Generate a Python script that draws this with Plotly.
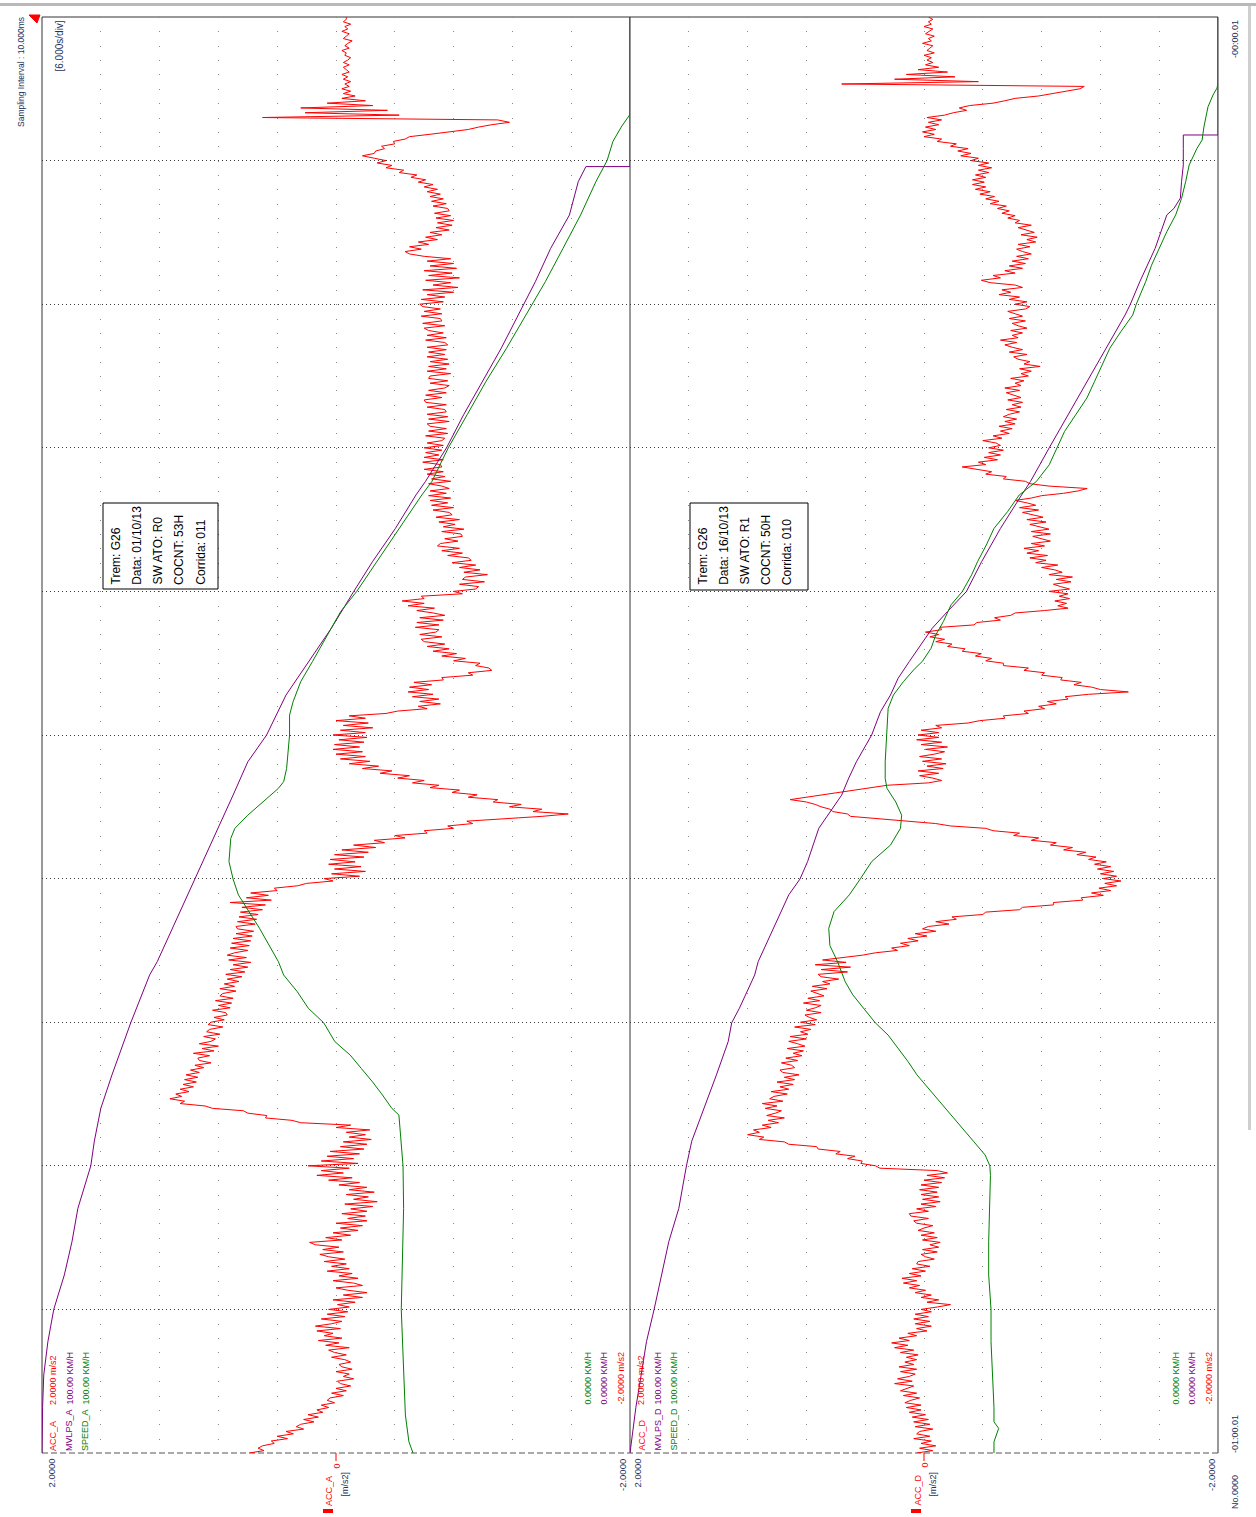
import plotly.graph_objects as go

# ---------------- recorded channels ----------------
# Acceleration records (m/s2), one stored sample every ACC_DT seconds from the start of the 60 s window.
ACC_DT = 0.1

acc_a = [
    0.59, 0.49, 0.53, 0.50, 0.42, 0.44, 0.33, 0.40, 0.29, 0.34, 0.22, 0.27, 0.24, 0.15, 0.22, 0.12, 0.19, 0.09, 0.13, 0.05,
    0.10, 0.01, 0.06, 0.04, -0.05, 0.03, -0.07, 0.00, -0.10, -0.03, -0.01, -0.12, -0.05, -0.09, 0.00, -0.11, -0.04, -0.02, -0.10, -0.06,
    0.03, -0.07, 0.01, 0.05, -0.09, 0.07, -0.02, 0.12, -0.04, 0.08, 0.02, 0.13, -0.03, 0.14, 0.03, -0.04, 0.10, -0.06, 0.06, -0.08,
    0.05, -0.09, -0.01, -0.13, 0.02, -0.18, -0.05, -0.21, -0.08, 0.00, -0.18, -0.12, 0.02, -0.15, -0.02, -0.11, 0.06, -0.09, 0.03, -0.07,
    0.08, -0.06, 0.05, 0.11, -0.05, 0.09, -0.02, 0.14, 0.18, -0.04, 0.07, -0.10, 0.02, -0.15, -0.03, -0.18, 0.00, -0.21, -0.08, -0.20,
    -0.04, -0.21, -0.10, -0.25, -0.06, -0.28, -0.12, -0.22, -0.07, -0.26, -0.09, -0.21, -0.02, -0.16, 0.05, -0.11, 0.13, -0.05, 0.10, -0.09,
    0.19, -0.15, 0.10, -0.12, 0.06, -0.16, 0.04, -0.19, -0.03, -0.21, -0.05, -0.24, -0.09, -0.20, -0.07, -0.23, 0.00, -0.10, 0.24, 0.30,
    0.48, 0.47, 0.60, 0.63, 0.84, 0.89, 1.06, 1.03, 1.13, 1.05, 1.09, 1.00, 1.06, 0.97, 1.04, 0.95, 1.03, 0.94, 1.02, 0.93,
    0.99, 0.90, 0.96, 0.85, 0.93, 0.94, 0.86, 0.97, 0.83, 0.91, 0.80, 0.93, 0.85, 0.82, 0.90, 0.79, 0.88, 0.86, 0.77, 0.87,
    0.85, 0.76, 0.83, 0.74, 0.75, 0.84, 0.72, 0.80, 0.71, 0.82, 0.70, 0.79, 0.77, 0.68, 0.79, 0.69, 0.76, 0.66, 0.74, 0.64,
    0.75, 0.62, 0.72, 0.60, 0.70, 0.58, 0.73, 0.61, 0.74, 0.69, 0.60, 0.72, 0.59, 0.71, 0.58, 0.70, 0.57, 0.68, 0.56, 0.67,
    0.68, 0.55, 0.67, 0.54, 0.66, 0.53, 0.65, 0.50, 0.64, 0.48, 0.72, 0.44, 0.61, 0.46, 0.58, 0.40, 0.42, 0.26, 0.20, 0.02,
    0.08, -0.16, 0.03, -0.20, 0.01, -0.17, 0.05, -0.13, 0.04, -0.19, 0.01, -0.22, -0.04, -0.27, -0.12, -0.33, -0.26, -0.47, -0.40, -0.62,
    -0.60, -0.80, -0.76, -0.93, -0.89, -1.16, -1.40, -1.58, -1.34, -1.40, -1.18, -1.26, -1.07, -1.10, -0.90, -0.96, -0.79, -0.84, -0.64, -0.70,
    -0.52, -0.60, -0.42, -0.50, -0.30, -0.38, -0.18, -0.29, -0.09, -0.23, -0.03, -0.20, 0.00, -0.18, 0.02, -0.16, 0.01, -0.19, -0.02, -0.21,
    0.02, -0.20, -0.03, -0.25, -0.05, -0.22, 0.00, -0.20, -0.09, -0.34, -0.42, -0.62, -0.56, -0.71, -0.57, -0.70, -0.52, -0.66, -0.49, -0.63,
    -0.50, -0.65, -0.53, -0.73, -0.72, -0.93, -0.90, -1.06, -1.04, -0.95, -0.98, -0.80, -0.88, -0.72, -0.82, -0.66, -0.77, -0.62, -0.74, -0.60,
    -0.58, -0.72, -0.57, -0.68, -0.70, -0.54, -0.70, -0.55, -0.73, -0.57, -0.74, -0.66, -0.55, -0.67, -0.49, -0.60, -0.45, -0.60, -0.58, -0.86,
    -0.80, -0.95, -0.97, -0.84, -1.01, -0.86, -0.88, -1.03, -0.87, -0.98, -0.84, -0.95, -0.79, -0.92, -0.90, -0.76, -0.86, -0.72, -0.84, -0.69,
    -0.71, -0.83, -0.74, -0.86, -0.85, -0.72, -0.87, -0.73, -0.81, -0.70, -0.84, -0.68, -0.79, -0.77, -0.66, -0.80, -0.65, -0.76, -0.64, -0.78,
    -0.63, -0.75, -0.64, -0.77, -0.72, -0.63, -0.78, -0.65, -0.74, -0.62, -0.73, -0.60, -0.72, -0.71, -0.59, -0.73, -0.60, -0.70, -0.61, -0.72,
    -0.60, -0.73, -0.62, -0.72, -0.74, -0.61, -0.76, -0.63, -0.75, -0.64, -0.62, -0.77, -0.63, -0.76, -0.62, -0.75, -0.74, -0.62, -0.75, -0.61,
    -0.60, -0.72, -0.61, -0.75, -0.63, -0.74, -0.77, -0.64, -0.76, -0.63, -0.64, -0.78, -0.62, -0.75, -0.63, -0.77, -0.64, -0.76, -0.62, -0.74,
    -0.63, -0.75, -0.62, -0.76, -0.74, -0.61, -0.75, -0.62, -0.73, -0.63, -0.60, -0.74, -0.59, -0.72, -0.71, -0.58, -0.72, -0.60, -0.71, -0.59,
    -0.57, -0.73, -0.58, -0.74, -0.62, -0.80, -0.59, -0.83, -0.66, -0.78, -0.61, -0.84, -0.63, -0.79, -0.60, -0.82, -0.64, -0.80, -0.62, -0.78,
    -0.60, -0.50, -0.47, -0.58, -0.50, -0.63, -0.56, -0.69, -0.61, -0.72, -0.64, -0.77, -0.68, -0.79, -0.69, -0.80, -0.68, -0.78, -0.67, -0.77,
    -0.76, -0.66, -0.75, -0.65, -0.73, -0.64, -0.71, -0.62, -0.69, -0.60, -0.66, -0.56, -0.61, -0.51, -0.55, -0.43, -0.46, -0.34, -0.38, -0.28,
    -0.34, -0.26, -0.18, -0.26, -0.27, -0.33, -0.31, -0.40, -0.39, -0.47, -0.50, -0.64, -0.79, -0.90, -0.97, -1.06, -1.18, -1.10, 0.50, -0.43,
    0.21, -0.35, 0.24, -0.25, 0.06, -0.20, -0.04, -0.13, -0.05, -0.10, -0.04, -0.09, -0.06, -0.10, -0.05, -0.08, -0.04, -0.09, -0.07, -0.05,
    -0.09, -0.05, -0.08, -0.10, -0.06, -0.07, -0.04, -0.09, -0.06, -0.08, -0.11, -0.05, -0.07, -0.09, -0.04, -0.08, -0.06, -0.10, -0.05, -0.07,
    -0.07,
]

acc_d = [
    0.05, -0.06, 0.03, -0.08, 0.02, -0.05, 0.07, -0.04, 0.05, 0.03, -0.06, 0.06, -0.04, 0.07, -0.03, 0.08, -0.01, 0.10, 0.02, 0.12,
    0.02, 0.13, 0.09, 0.03, 0.14, 0.05, 0.16, 0.12, 0.07, 0.20, 0.08, 0.18, 0.10, 0.06, 0.16, 0.05, 0.17, 0.07, 0.13, 0.05,
    0.12, 0.04, 0.16, 0.07, 0.20, 0.11, 0.22, 0.10, 0.17, 0.05, 0.11, -0.02, 0.05, -0.05, 0.06, -0.04, 0.07, -0.03, 0.06, -0.05,
    0.02, -0.09, -0.18, -0.02, -0.10, 0.02, -0.05, 0.06, -0.01, 0.10, 0.03, 0.14, 0.05, 0.15, 0.02, 0.10, -0.01, 0.08, -0.04, 0.05,
    0.04, -0.07, -0.01, 0.02, -0.09, 0.01, -0.10, -0.04, -0.11, 0.01, -0.09, 0.02, -0.07, 0.04, 0.00, -0.06, 0.05, 0.07, -0.03, 0.09,
    0.10, -0.03, 0.05, -0.08, 0.02, -0.11, 0.01, -0.10, 0.02, -0.09, 0.03, -0.10, 0.02, -0.12, 0.00, -0.14, -0.02, -0.16, -0.09, 0.30,
    0.33, 0.43, 0.42, 0.52, 0.47, 0.60, 0.57, 0.72, 0.73, 0.92, 0.95, 1.12, 1.09, 1.20, 1.12, 1.16, 1.04, 1.10, 0.99, 1.06,
    0.95, 1.07, 1.01, 0.97, 1.08, 1.00, 1.10, 0.96, 1.05, 1.02, 0.93, 1.04, 0.92, 0.98, 0.89, 1.00, 0.88, 0.95, 0.85, 0.96,
    0.98, 0.88, 0.90, 0.97, 0.86, 0.94, 0.83, 0.89, 0.82, 0.93, 0.81, 0.86, 0.92, 0.80, 0.91, 0.79, 0.84, 0.77, 0.88, 0.74,
    0.84, 0.73, 0.78, 0.81, 0.70, 0.80, 0.74, 0.70, 0.82, 0.71, 0.79, 0.68, 0.72, 0.77, 0.66, 0.76, 0.64, 0.69, 0.58, 0.70,
    0.72, 0.52, 0.70, 0.50, 0.74, 0.53, 0.69, 0.55, 0.42, 0.33, 0.18, 0.22, 0.10, 0.16, 0.04, 0.11, -0.02, 0.06, -0.08, 0.01,
    -0.03, -0.17, -0.08, -0.22, -0.19, -0.40, -0.42, -0.65, -0.67, -0.88, -0.88, -1.08, -1.07, -1.22, -1.14, -1.27, -1.19, -1.31, -1.23, -1.34,
    -1.22, -1.31, -1.20, -1.29, -1.18, -1.27, -1.16, -1.24, -1.12, -1.17, -1.04, -1.10, -0.95, -1.01, -0.86, -0.90, -0.73, -0.78, -0.61, -0.65,
    -0.47, -0.42, -0.18, -0.08, 0.12, 0.26, 0.50, 0.52, 0.62, 0.64, 0.70, 0.74, 0.80, 0.91, 0.80, 0.72, 0.60, 0.50, 0.36, 0.25,
    -0.03, -0.12, -0.06, 0.03, -0.10, 0.04, -0.13, -0.02, -0.15, 0.01, -0.12, 0.03, -0.07, -0.14, -0.01, -0.16, 0.02, -0.12, 0.05, -0.10,
    0.04, -0.10, 0.02, -0.12, -0.08, -0.30, -0.38, -0.55, -0.54, -0.71, -0.68, -0.82, -0.78, -0.90, -0.84, -0.98, -0.96, -1.12, -1.39, -1.20,
    -1.14, -1.02, -1.07, -0.93, -0.94, -0.80, -0.82, -0.68, -0.71, -0.54, -0.54, -0.42, -0.46, -0.35, -0.39, -0.26, -0.28, -0.16, -0.19, -0.08,
    -0.14, -0.04, -0.10, -0.01, -0.12, -0.11, -0.34, -0.36, -0.52, -0.48, -0.59, -0.62, -0.82, -0.98, -0.91, -0.97, -0.89, -0.99, -0.92, -0.98,
    -0.85, -0.99, -0.93, -0.88, -1.00, -0.90, -1.01, -0.85, -0.94, -0.89, -0.80, -0.91, -0.76, -0.83, -0.72, -0.84, -0.70, -0.78, -0.68, -0.82,
    -0.73, -0.86, -0.80, -0.74, -0.86, -0.73, -0.85, -0.78, -0.72, -0.83, -0.70, -0.81, -0.74, -0.67, -0.78, -0.65, -0.76, -0.70, -0.62, -0.73,
    -0.80, -0.95, -1.05, -1.11, -0.85, -0.72, -0.69, -0.54, -0.56, -0.42, -0.46, -0.37, -0.26, -0.42, -0.37, -0.50, -0.41, -0.52, -0.44, -0.54,
    -0.44, -0.52, -0.49, -0.40, -0.53, -0.47, -0.58, -0.52, -0.60, -0.51, -0.62, -0.55, -0.63, -0.54, -0.58, -0.65, -0.56, -0.66, -0.60, -0.67,
    -0.57, -0.66, -0.61, -0.56, -0.65, -0.55, -0.66, -0.62, -0.68, -0.59, -0.71, -0.66, -0.73, -0.65, -0.79, -0.68, -0.72, -0.64, -0.61, -0.70,
    -0.58, -0.67, -0.60, -0.55, -0.63, -0.52, -0.64, -0.60, -0.67, -0.59, -0.70, -0.64, -0.60, -0.69, -0.58, -0.67, -0.62, -0.57, -0.69, -0.72,
    -0.62, -0.70, -0.58, -0.65, -0.51, -0.59, -0.53, -0.67, -0.62, -0.45, -0.39, -0.52, -0.47, -0.62, -0.55, -0.67, -0.58, -0.69, -0.60, -0.71,
    -0.63, -0.73, -0.67, -0.63, -0.72, -0.64, -0.76, -0.70, -0.77, -0.66, -0.75, -0.69, -0.64, -0.73, -0.62, -0.65, -0.57, -0.62, -0.53, -0.58,
    -0.50, -0.56, -0.45, -0.51, -0.42, -0.48, -0.38, -0.45, -0.35, -0.42, -0.33, -0.41, -0.33, -0.42, -0.35, -0.44, -0.37, -0.46, -0.37, -0.44,
    -0.32, -0.37, -0.25, -0.32, -0.23, -0.30, -0.18, -0.22, -0.09, -0.12, 0.00, -0.07, 0.01, -0.08, -0.01, -0.10, -0.03, -0.12, -0.02, -0.14,
    -0.20, -0.29, -0.24, -0.31, -0.47, -0.55, -0.62, -0.78, -0.88, -0.95, -1.06, -1.09, 0.56, -0.37, 0.20, -0.21, 0.12, -0.16, 0.04, -0.10,
    -0.01, -0.06, -0.02, -0.05, 0.00, -0.07, -0.02, -0.04, -0.06, 0.01, -0.05, -0.03, -0.07, -0.01, -0.04, -0.06, 0.00, -0.05, -0.03, -0.06,
    -0.03,
]

# Speed channels (km/h) at irregular instants (s from the start of the window).
speed_a_t = [0.0, 0.47, 1.59, 6.0, 10.22, 12.0, 14.12, 14.4, 14.96, 15.51, 16.07, 16.63, 17.19, 17.98, 18.58, 19.28,
             19.97, 20.53, 21.92, 23.32, 23.98, 24.71, 25.68, 26.1, 26.65, 27.2, 27.77, 28.05, 28.6, 30.0, 30.83, 31.39,
             32.23, 33.07, 34.18, 35.16, 35.99, 37.24, 38.63, 40.03, 40.59, 42.0, 43.38, 44.77, 46.16, 47.55, 48.0, 48.94,
             50.33, 51.73, 53.12, 54.0, 54.8, 55.4, 55.93, 60.0]
speed_a_v = [36.9, 37.6, 38.2, 38.9, 38.5, 38.6, 39.3, 40.5, 42.1, 43.8, 45.7, 47.6, 50.2, 52.1, 54.7, 56.6,
             58.9, 59.8, 63.0, 66.6, 67.5, 68.2, 67.9, 67.2, 65.0, 62.4, 59.8, 58.9, 58.4, 57.9, 57.9, 57.3,
             56.0, 54.0, 51.5, 49.2, 46.5, 43.1, 39.3, 35.4, 33.7, 30.9, 27.7, 24.5, 21.0, 17.7, 16.7, 14.4,
             11.4, 8.4, 5.8, 3.9, 2.9, 1.5, 0.0, 0.0]

wlps_a_t = [0.0, 1.91, 3.26, 4.65, 6.0, 7.44, 8.83, 10.22, 12.0, 13.03, 14.4, 15.8, 17.98, 19.97, 20.53, 21.92,
            23.32, 23.98, 24.71, 26.1, 27.49, 28.88, 30.0, 31.67, 33.07, 34.46, 35.99, 37.24, 38.63, 40.03, 40.59,
            42.0, 43.38, 44.77, 46.16, 47.55, 48.94, 50.33, 51.73, 53.12, 53.75, 53.75, 60.0]
wlps_a_v = [100.0, 99.9, 99.7, 99.0, 98.0, 96.2, 94.9, 93.9, 91.7, 91.1, 90.0, 88.1, 84.9, 81.7, 80.4, 77.8,
            75.3, 74.0, 72.7, 70.1, 67.5, 65.0, 61.8, 58.5, 54.7, 50.8, 47.0, 43.8, 39.9, 36.4, 34.8,
            31.2, 28.3, 25.1, 21.9, 19.0, 16.1, 13.5, 10.3, 8.8, 7.5, 0.0, 0.0]

speed_d_t = [0.0, 0.47, 1.03, 1.3, 1.91, 3.26, 4.65, 6.0, 7.44, 8.83, 10.22, 11.6, 12.0, 12.45, 13.0, 13.57,
             14.12, 14.68, 15.23, 15.8, 16.35, 16.9, 17.46, 17.98, 18.58, 19.14, 19.69, 19.97, 20.53, 21.2, 21.92,
             22.62, 23.32, 24.0, 24.71, 25.4, 26.1, 26.65, 27.2, 27.77, 28.19, 28.88, 30.0, 31.11, 31.67, 32.23,
             32.79, 33.07, 33.62, 34.18, 34.74, 35.44, 35.99, 36.69, 37.24, 37.94, 38.63, 39.33, 40.03, 40.59,
             41.29, 42.0, 42.68, 43.38, 44.08, 44.77, 45.47, 46.16, 46.86, 47.55, 48.0, 48.94, 49.63, 50.33, 51.03,
             51.73, 52.42, 53.12, 53.82, 54.5, 54.86, 55.4, 55.9, 56.25, 56.74, 57.03, 57.24, 60.0]
speed_d_v = [38.1, 38.1, 37.3, 38.1, 38.1, 38.3, 38.6, 38.6, 39.0, 39.0, 38.8, 38.7, 38.8, 39.6, 41.5, 43.5,
             45.4, 47.3, 49.3, 51.2, 52.7, 54.4, 56.1, 58.3, 60.2, 62.1, 63.4, 63.8, 64.7, 66.0, 66.2,
             65.3, 62.7, 60.8, 58.9, 55.7, 54.0, 53.8, 54.8, 56.3, 56.6, 56.6, 56.3, 56.1, 55.2, 53.5,
             51.5, 50.3, 48.8, 48.0, 46.7, 45.4, 43.5, 41.9, 40.9, 39.4, 38.1, 35.8, 33.8, 30.9,
             28.7, 27.4, 26.1, 24.2, 22.3, 21.0, 19.7, 18.4, 16.5, 14.5, 13.9, 12.3, 11.3, 10.0, 8.7,
             7.2, 6.2, 5.5, 4.9, 3.6, 2.7, 2.4, 2.0, 1.7, 0.85, 0.17, 0.0, 0.0]

wlps_d_t = [0.0, 1.91, 3.26, 4.65, 6.0, 7.44, 8.83, 10.22, 12.0, 13.03, 14.4, 15.8, 17.19, 17.98, 18.58, 19.97,
            20.53, 21.92, 23.32, 23.98, 24.71, 26.1, 26.8, 27.49, 28.2, 28.88, 30.0, 30.97, 31.67, 32.37, 33.07,
            33.76, 34.46, 35.16, 35.99, 37.24, 38.63, 40.03, 40.59, 42.0, 43.38, 44.77, 46.16, 47.55, 48.0, 48.94,
            50.33, 51.73, 52.0, 52.43, 53.12, 53.82, 54.5, 55.07, 55.07, 60.0]
wlps_d_v = [100.0, 99.0, 98.1, 97.2, 95.9, 94.6, 93.4, 91.7, 90.4, 89.5, 87.4, 85.3, 83.3, 82.7, 81.4, 78.8,
            78.2, 75.6, 73.0, 71.1, 69.8, 67.9, 66.0, 64.0, 62.8, 61.5, 58.9, 57.4, 55.7, 54.4, 52.5,
            50.5, 48.6, 46.0, 42.8, 40.2, 37.0, 33.4, 31.9, 28.7, 25.5, 22.3, 19.0, 15.8, 14.9, 13.3,
            10.7, 8.7, 7.5, 6.4, 6.2, 5.9, 5.9, 5.9, 0.0, 0.0]

# Header notes shown inside each record panel
info_a = ["Trem: G26", "Data: 01/10/13", "SW ATO: R0", "COCNT: 53H", "Corrida: 011"]
info_d = ["Trem: G26", "Data: 16/10/13", "SW ATO: R1", "COCNT: 50H", "Corrida: 010"]

# ---------------- page geometry ----------------
W, H = 1256, 1517
L, R, T, B = 42, 1218, 17, 1453          # frame of the two record panels
MID = (L + R) / 2

RED, PURPLE, GREEN = "#ff0000", "#800080", "#008000"
NAVY = "#24305e"
FONT = "Liberation Sans Narrow, Arial Narrow, Liberation Sans, Arial, sans-serif"


def fx(px):
    return (px - L) / (R - L)


def fy(py):
    return (B - py) / (B - T)


acc_time = [round(i * ACC_DT, 2) for i in range(len(acc_a))]

fig = go.Figure()


def add_line(x, y, xaxis, color):
    fig.add_trace(go.Scatter(x=x, y=y, xaxis=xaxis, yaxis="y", mode="lines",
                             line=dict(color=color, width=1),
                             hoverinfo="skip", showlegend=False))


add_line(acc_a, acc_time, "x", RED)
add_line(wlps_a_v, wlps_a_t, "x3", PURPLE)
add_line(speed_a_v, speed_a_t, "x3", GREEN)
add_line(acc_d, acc_time, "x2", RED)
add_line(wlps_d_v, wlps_d_t, "x4", PURPLE)
add_line(speed_d_v, speed_d_t, "x4", GREEN)

acc_axis = dict(range=[2, -2], anchor="y", showgrid=True, dtick=0.4, tick0=0,
                gridcolor="#8a8a8a", gridwidth=1, griddash="1px,13.36px",
                showticklabels=False, ticks="", zeroline=False, showline=False)

fig.update_layout(
    width=W, height=H,
    margin=dict(l=L, r=W - R, t=T, b=H - B, pad=0),
    paper_bgcolor="white", plot_bgcolor="white", showlegend=False,
    xaxis=dict(domain=[0, 0.5], **acc_axis),
    xaxis2=dict(domain=[0.5, 1], **acc_axis),
    xaxis3=dict(overlaying="x", range=[100, 0], anchor="y", visible=False),
    xaxis4=dict(overlaying="x2", range=[100, 0], anchor="y", visible=False),
    yaxis=dict(domain=[0, 1], range=[0, 60], dtick=6, tick0=0, showgrid=True,
               gridcolor="#3a3a3a", gridwidth=1, griddash="1px,3px",
               showticklabels=False, ticks="", zeroline=False, showline=False),
)

shapes = []


def seg(x0, y0, x1, y1, color="#333333", dash="solid", width=1, layer="between"):
    shapes.append(dict(type="line", xref="paper", yref="paper",
                       x0=fx(x0), y0=fy(y0), x1=fx(x1), y1=fy(y1), layer=layer,
                       line=dict(color=color, width=width, dash=dash)))


def box(x0, y0, x1, y1, fill, line=None, layer="above"):
    shapes.append(dict(type="rect", xref="paper", yref="paper",
                       x0=fx(x0), y0=fy(y0), x1=fx(x1), y1=fy(y1), layer=layer,
                       fillcolor=fill,
                       line=dict(color=line or fill, width=1 if line else 0)))


# panel frame
seg(L, T, R, T)
seg(L, T, L, B)
seg(R, T, R, B)
seg(MID, T, MID, B)
seg(L, B, R, B, color="#555555", dash="6px,3px")

# window chrome
box(0, 3, W, 6, "#b9b9b9")
box(1248, 6, 1251, 1130, "#cfcfcf")

# sampling marker in the corner
shapes.append(dict(type="path", xref="paper", yref="paper", layer="above",
                   path="M {:.5f},{:.5f} L {:.5f},{:.5f} L {:.5f},{:.5f} Z".format(
                       fx(29), fy(15), fx(40), fy(15), fx(37), fy(23)),
                   fillcolor=RED, line=dict(color=RED, width=1)))

# zero markers under each acceleration scale
for zx in (L + (MID - L) / 2, MID + (R - MID) / 2):
    seg(zx, B, zx, B + 8, color=RED)
    box(zx - 13, 1509, zx - 3, 1513, RED)

# info boxes
box(103, 503, 218, 589, "white", "#000000")
box(690, 503, 808, 590, "white", "#000000")

fig.update_layout(shapes=shapes)

annotations = []


def label(text, x, y, color=NAVY, size=9, yanchor="bottom", xanchor="center"):
    annotations.append(dict(text=text, x=fx(x), y=fy(y), xref="paper", yref="paper",
                            showarrow=False, textangle=-90, xanchor=xanchor, yanchor=yanchor,
                            font=dict(family=FONT, size=size, color=color)))


# channel scale legends for both records
for off, tag in ((0, "A"), (MID - L, "D")):
    label("ACC_" + tag, 53 + off, 1453, RED)
    label("2.0000 m/s2", 53 + off, 1407, RED)
    label("MVLPS_" + tag, 69 + off, 1453, PURPLE)
    label("100.00 KM/H", 69 + off, 1407, PURPLE)
    label("SPEED_" + tag, 85 + off, 1453, GREEN)
    label("100.00 KM/H", 85 + off, 1407, GREEN)
    label("0.0000 KM/H", 587 + off, 1350, GREEN, yanchor="top")
    label("0.0000 KM/H", 603 + off, 1350, PURPLE, yanchor="top")
    label("-2.0000 m/s2", 620 + off, 1350, RED, yanchor="top")
    zx = 337 + off
    label("0", zx, 1461, RED, yanchor="top")
    label("ACC_" + tag, zx - 8, 1508, RED)
    label("[m/s2]", zx + 7, 1470, NAVY, yanchor="top")

# value-axis end labels
label("2.0000", 51, 1457, size=9.5, yanchor="top")
label("-2.0000", 622, 1457, size=9.5, yanchor="top")
label("2.0000", 637, 1457, size=9.5, yanchor="top")
label("-2.0000", 1211, 1457, size=9.5, yanchor="top")

# time-axis labels
label("-01:00.01", 1235, 1455)
label("No.0000", 1235, 1511)
label("-00:00.01", 1235, 18, yanchor="top")
label("Sampling Interval : 10.000ms", 21, 15, size=8.5, yanchor="top")
label("[6.000s/div]", 59, 19, size=10, yanchor="top")

# info box text
for x0, lines in ((103, info_a), (690, info_d)):
    for i, line in enumerate(lines):
        label(line, x0 + 12 + i * 21.3, 587, color="#000000", size=12)

fig.update_layout(annotations=annotations)

fig.write_html("out.html")
